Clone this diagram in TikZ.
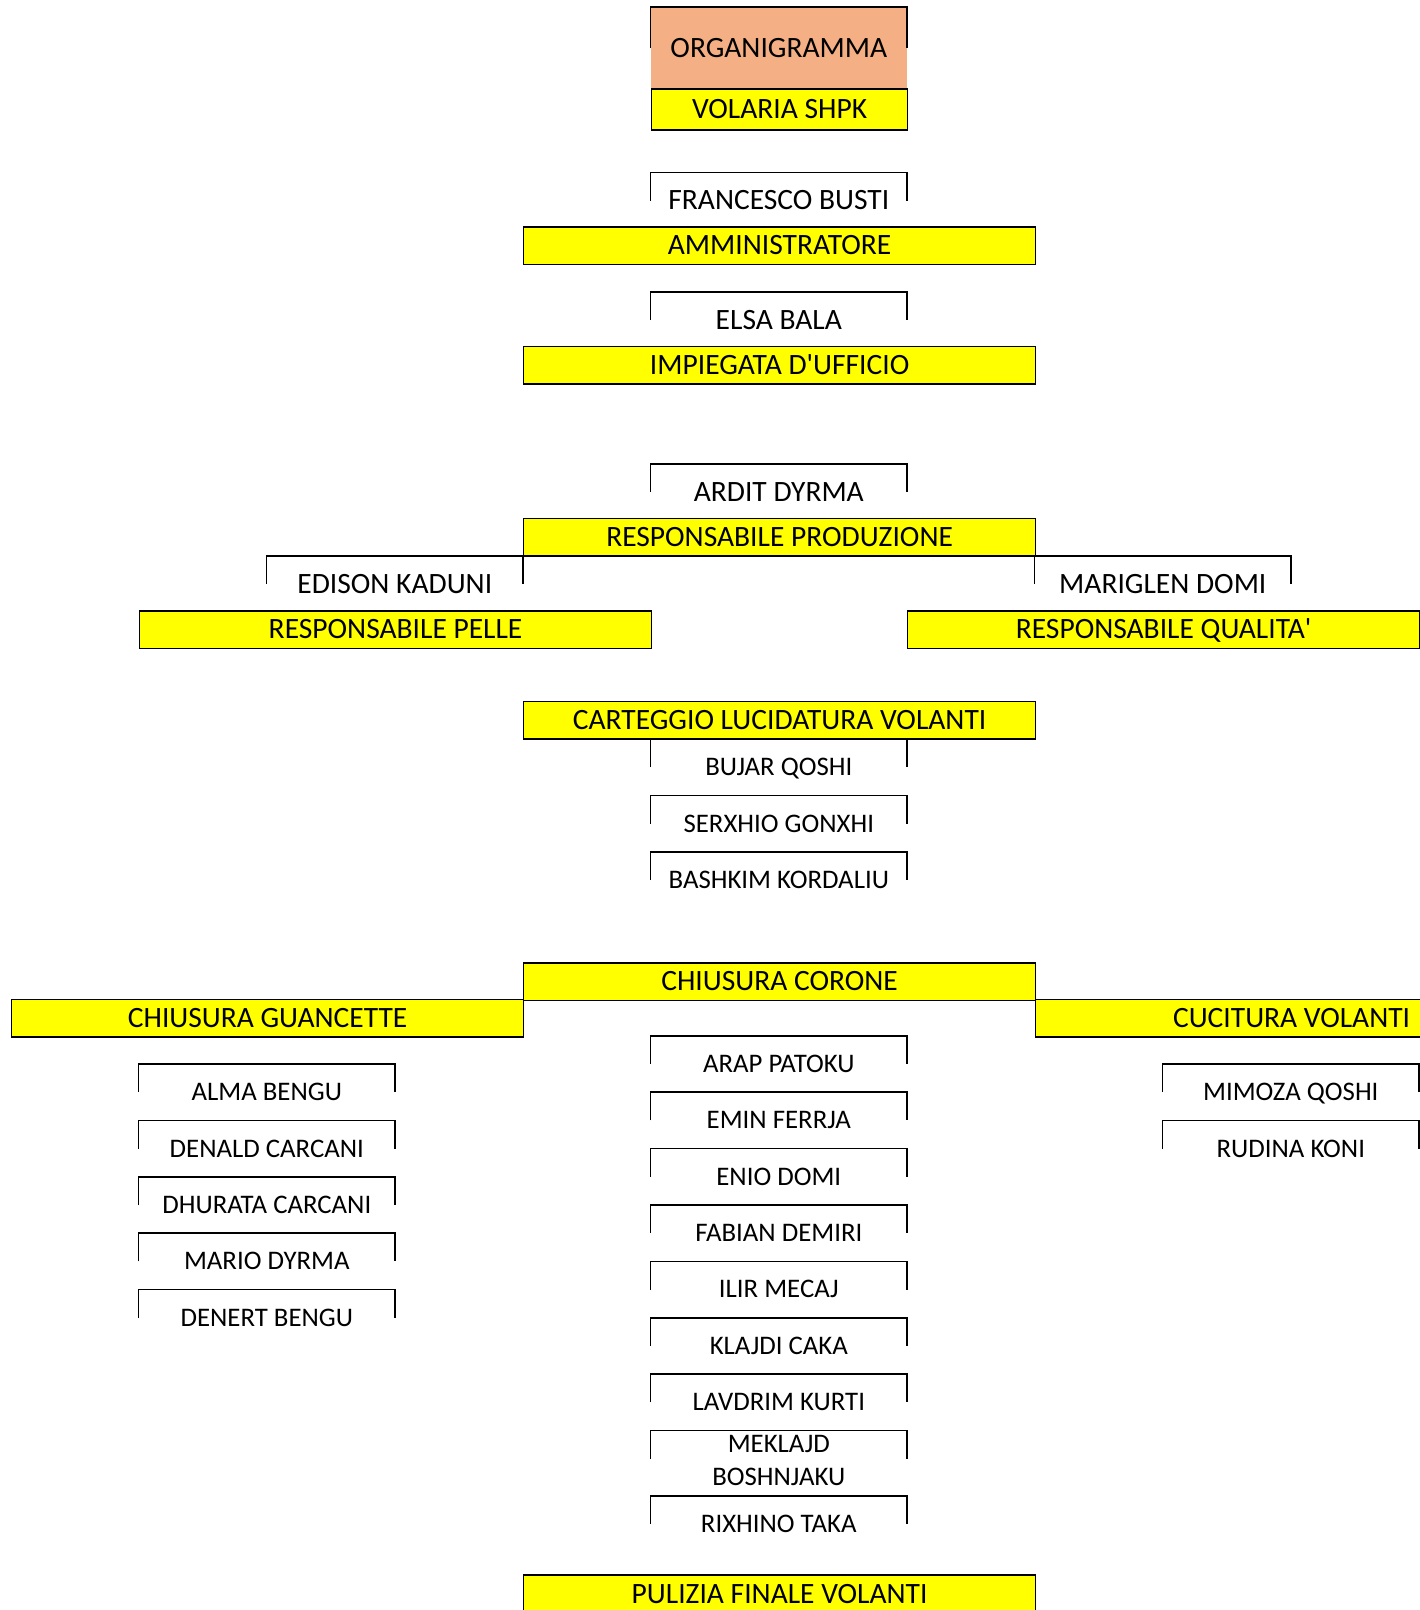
\documentclass[tikz,border=0pt]{standalone}
\usepackage{fontspec}
\setmainfont{Carlito}[Ligatures=TeXOff]
\usetikzlibrary{positioning}
\definecolor{giallo}{HTML}{FFFF00}
\definecolor{salmone}{HTML}{F4B084}
\newcommand{\grande}{\fontsize{29.5}{35.4}\selectfont}
\newcommand{\piccolo}{\fontsize{26.8}{32.2}\selectfont}
\tikzset{
bordo/.style={
  draw=black,
  line width=1.6pt
  },
carica/.style={
  bordo,
  fill=giallo,
  anchor=north west,
  inner sep=0pt,
  minimum width=512pt,
  minimum height=37.5pt,
  font=\grande,
  text height=18.6pt,
  text depth=0pt
  },
nome/.style={
  anchor=north,
  inner sep=0pt,
  minimum width=256pt,
  minimum height=56pt,
  font=\piccolo,
  text height=16.9pt,
  text depth=0pt
  },
nomeGrande/.style={
  nome,
  font=\grande,
  text height=18.6pt
  }
}

\begin{document}
\begin{tikzpicture}[x=1pt,y=-1pt]
\useasboundingbox (0,0) rectangle (1420,1610);
\clip (0,0) rectangle (1420,1610);

% testata
\node[nomeGrande, fill=salmone, minimum height=81.6pt]
at (778.8,6.7)
(titolo) {ORGANIGRAMMA};
\node[carica, minimum width=256pt, minimum height=41pt]
at (650.8,88.3)
(ditta) {VOLARIA SHPK};

% direzione
\node[nomeGrande] at (778.8,172.3) (nomeBusti) {FRANCESCO BUSTI};
\node[carica] at (522.8,226) (amministratore) {AMMINISTRATORE};
\node[nomeGrande] at (778.8,292) (nomeBala) {ELSA BALA};
\node[carica] at (522.8,345.7) (impiegata) {IMPIEGATA D'UFFICIO};

% produzione
\node[nomeGrande] at (778.8,463.7) (nomeDyrmaA) {ARDIT DYRMA};
\node[carica] at (522.8,517.7) (respProduzione) {RESPONSABILE PRODUZIONE};
\node[nomeGrande] at (394.8,555.7) (nomeKaduni) {EDISON KADUNI};
\node[nomeGrande] at (1162.8,555.7) (nomeDomiM) {MARIGLEN DOMI};
\node[carica] at (138.8,610) (respPelle) {RESPONSABILE PELLE};
\node[carica] at (906.8,610) (respQualita) {RESPONSABILE QUALITA'};

% carteggio
\node[carica] at (522.8,700.7) (carteggio) {CARTEGGIO LUCIDATURA VOLANTI};
\node[nome] at (778.8,739) (nomeQoshiB) {BUJAR QOSHI};
\node[nome, below=0pt of nomeQoshiB] (nomeGonxhi) {SERXHIO GONXHI};
\node[nome, below=0pt of nomeGonxhi] (nomeKordaliu) {BASHKIM KORDALIU};

% chiusura e cucitura
\node[carica] at (522.8,962) (corone) {CHIUSURA CORONE};
\node[carica] at (10.8,998.7) (guancette) {CHIUSURA GUANCETTE};
\node[carica] at (1034.8,998.7) (cucitura) {CUCITURA VOLANTI};

\node[nome] at (266.8,1064) (nomeBenguA) {ALMA BENGU};
\node[nome, below=0pt of nomeBenguA] (nomeCarcaniD) {DENALD CARCANI};
\node[nome, below=0pt of nomeCarcaniD] (nomeCarcaniDh) {DHURATA CARCANI};
\node[nome, below=0pt of nomeCarcaniDh] (nomeDyrmaM) {MARIO DYRMA};
\node[nome, below=0pt of nomeDyrmaM] (nomeBenguD) {DENERT BENGU};

\node[nome] at (778.8,1035.7) (nomePatoku) {ARAP PATOKU};
\node[nome, below=0pt of nomePatoku] (nomeFerrja) {EMIN FERRJA};
\node[nome, below=0pt of nomeFerrja] (nomeDomiE) {ENIO DOMI};
\node[nome, below=0pt of nomeDomiE] (nomeDemiri) {FABIAN DEMIRI};
\node[nome, below=0pt of nomeDemiri] (nomeMecaj) {ILIR MECAJ};
\node[nome, below=0pt of nomeMecaj] (nomeCaka) {KLAJDI CAKA};
\node[nome, below=0pt of nomeCaka] (nomeKurti) {LAVDRIM KURTI};
\node[nome, below=0pt of nomeKurti] (nomeBoshnjaku)
  {\raisebox{-18pt}{\begin{tabular}[b]{@{}c@{}}MEKLAJD\\BOSHNJAKU\end{tabular}}};
\node[nome, below=9pt of nomeBoshnjaku] (nomeTaka) {RIXHINO TAKA};

\node[nome] at (1290.8,1064) (nomeQoshiM) {MIMOZA QOSHI};
\node[nome, below=0pt of nomeQoshiM] (nomeKoni) {RUDINA KONI};

\node[carica, minimum height=38.4pt] at (522.8,1574.3) (pulizia) {PULIZIA FINALE VOLANTI};

% staffe sopra i nomi
\begin{scope}
\draw[bordo] (titolo.west) |- (titolo.north) -| (titolo.east);
\draw[bordo] (nomeBusti.west) |- (nomeBusti.north) -| (nomeBusti.east);
\draw[bordo] (nomeBala.west) |- (nomeBala.north) -| (nomeBala.east);
\draw[bordo] (nomeDyrmaA.west) |- (nomeDyrmaA.north) -| (nomeDyrmaA.east);
\draw[bordo] (nomeKaduni.west) |- (nomeKaduni.north) -| (nomeKaduni.east);
\draw[bordo] (nomeDomiM.west) |- (nomeDomiM.north) -| (nomeDomiM.east);
\draw[bordo] (nomeQoshiB.west) |- (nomeQoshiB.north) -| (nomeQoshiB.east);
\draw[bordo] (nomeGonxhi.west) |- (nomeGonxhi.north) -| (nomeGonxhi.east);
\draw[bordo] (nomeKordaliu.west) |- (nomeKordaliu.north) -| (nomeKordaliu.east);
\draw[bordo] (nomeBenguA.west) |- (nomeBenguA.north) -| (nomeBenguA.east);
\draw[bordo] (nomeCarcaniD.west) |- (nomeCarcaniD.north) -| (nomeCarcaniD.east);
\draw[bordo] (nomeCarcaniDh.west) |- (nomeCarcaniDh.north) -| (nomeCarcaniDh.east);
\draw[bordo] (nomeDyrmaM.west) |- (nomeDyrmaM.north) -| (nomeDyrmaM.east);
\draw[bordo] (nomeBenguD.west) |- (nomeBenguD.north) -| (nomeBenguD.east);
\draw[bordo] (nomePatoku.west) |- (nomePatoku.north) -| (nomePatoku.east);
\draw[bordo] (nomeFerrja.west) |- (nomeFerrja.north) -| (nomeFerrja.east);
\draw[bordo] (nomeDomiE.west) |- (nomeDomiE.north) -| (nomeDomiE.east);
\draw[bordo] (nomeDemiri.west) |- (nomeDemiri.north) -| (nomeDemiri.east);
\draw[bordo] (nomeMecaj.west) |- (nomeMecaj.north) -| (nomeMecaj.east);
\draw[bordo] (nomeCaka.west) |- (nomeCaka.north) -| (nomeCaka.east);
\draw[bordo] (nomeKurti.west) |- (nomeKurti.north) -| (nomeKurti.east);
\draw[bordo] (nomeBoshnjaku.west) |- (nomeBoshnjaku.north) -| (nomeBoshnjaku.east);
\draw[bordo] (nomeTaka.west) |- (nomeTaka.north) -| (nomeTaka.east);
\draw[bordo] (nomeQoshiM.west) |- (nomeQoshiM.north) -| (nomeQoshiM.east);
\draw[bordo] (nomeKoni.west) |- (nomeKoni.north) -| (nomeKoni.east);
\end{scope}
\end{tikzpicture}
\end{document}
